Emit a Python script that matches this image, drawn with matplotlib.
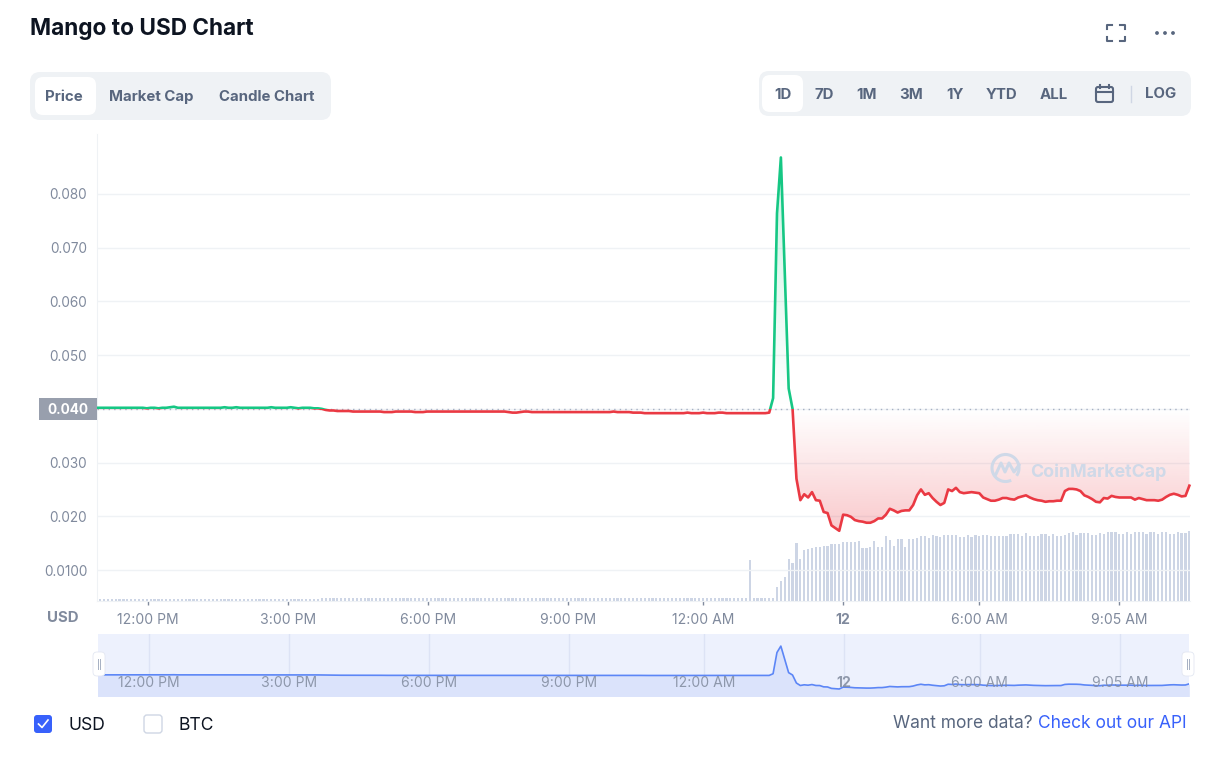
#!/usr/bin/env python3
# Mango to USD 1D chart, CoinMarketCap style
import numpy as np
import matplotlib
matplotlib.use("Agg")
import matplotlib.pyplot as plt
from matplotlib.patches import FancyBboxPatch, Rectangle, Circle, Arc

plt.rcParams["font.family"] = ["Inter", "DejaVu Sans"]

# 5 minute samples, hours counted from 12:00 PM
start_hour = -1.11
step_hour = 1 / 12
baseline = 0.040

price_before = [
    0.0402, 0.0402, 0.0402, 0.0402, 0.0402, 0.0402, 0.0402, 0.0402, 0.0402, 0.0402,
    0.0402, 0.0402, 0.0402, 0.0401, 0.0402, 0.0402, 0.0401, 0.0402, 0.0402, 0.0403,
    0.0404, 0.0402, 0.0402, 0.0402, 0.0402, 0.0402, 0.0402, 0.0402, 0.0402, 0.0402,
    0.0402, 0.0402, 0.0402, 0.0403, 0.0402, 0.0402, 0.0403, 0.0402, 0.0402, 0.0402,
    0.0402, 0.0402, 0.0402, 0.0402, 0.0402, 0.0403, 0.0402, 0.0402, 0.0402, 0.0402,
    0.0403, 0.0402, 0.0401, 0.0402, 0.0402, 0.0402, 0.0401, 0.0401,
]
price_drift = [
    0.0400, 0.0398, 0.0397, 0.0397, 0.0396, 0.0396, 0.0396, 0.0396, 0.0395, 0.0395,
    0.0395, 0.0395, 0.0395, 0.0395, 0.0395, 0.0395, 0.0394, 0.0394, 0.0394, 0.0395,
    0.0395, 0.0395, 0.0395, 0.0395, 0.0394, 0.0394, 0.0394, 0.0395, 0.0395, 0.0395,
    0.0395, 0.0395, 0.0395, 0.0395, 0.0395, 0.0395, 0.0395, 0.0395, 0.0395, 0.0395,
    0.0395, 0.0395, 0.0395, 0.0395, 0.0395, 0.0395, 0.0395, 0.0395, 0.0394, 0.0393,
    0.0393, 0.0394, 0.0395, 0.0395, 0.0394, 0.0394, 0.0394, 0.0394, 0.0394, 0.0394,
    0.0394, 0.0394, 0.0394, 0.0394, 0.0394, 0.0394, 0.0394, 0.0394, 0.0394, 0.0394,
    0.0394, 0.0394, 0.0394, 0.0394, 0.0394, 0.0395, 0.0394, 0.0394, 0.0394, 0.0394,
    0.0393, 0.0393, 0.0393, 0.0392, 0.0392, 0.0392, 0.0392, 0.0392, 0.0392, 0.0392,
    0.0392, 0.0392, 0.0392, 0.0392, 0.0393, 0.0392, 0.0392, 0.0392, 0.0393, 0.0392,
    0.0392, 0.0392, 0.0393, 0.0393, 0.0392, 0.0392, 0.0392, 0.0392, 0.0392, 0.0392,
    0.0392, 0.0392, 0.0392, 0.0392, 0.0392,
]
price_spike = [0.0393, 0.0420, 0.0764, 0.0868, 0.0652, 0.0438, 0.0400]
price_after = [
    0.0270, 0.0230, 0.0241, 0.0235, 0.0245, 0.0230, 0.0229, 0.0208, 0.0206, 0.0183,
    0.0178, 0.0173, 0.0203, 0.0202, 0.0199, 0.0193, 0.0191, 0.0190, 0.0188, 0.0188,
    0.0191, 0.0196, 0.0196, 0.0203, 0.0214, 0.0211, 0.0207, 0.0210, 0.0211, 0.0211,
    0.0221, 0.0239, 0.0250, 0.0240, 0.0243, 0.0234, 0.0227, 0.0221, 0.0225, 0.0250,
    0.0247, 0.0253, 0.0245, 0.0243, 0.0244, 0.0245, 0.0244, 0.0243, 0.0235, 0.0232,
    0.0229, 0.0229, 0.0231, 0.0234, 0.0234, 0.0232, 0.0231, 0.0235, 0.0237, 0.0239,
    0.0235, 0.0232, 0.0230, 0.0229, 0.0227, 0.0228, 0.0228, 0.0229, 0.0229, 0.0247,
    0.0251, 0.0251, 0.0250, 0.0247, 0.0239, 0.0236, 0.0232, 0.0227, 0.0226, 0.0234,
    0.0233, 0.0238, 0.0236, 0.0235, 0.0235, 0.0235, 0.0235, 0.0231, 0.0234, 0.0232,
    0.0230, 0.0230, 0.0230, 0.0229, 0.0231, 0.0236, 0.0240, 0.0242, 0.0240, 0.0237,
    0.0238, 0.0257,
]
price = np.array(price_before + price_drift + price_spike + price_after)

volume_quiet = [
    2.0, 2.0, 2.0, 2.0, 2.0, 2.0, 2.0, 2.0, 2.0, 2.0, 2.0, 2.0, 2.0, 2.0, 2.0, 2.0,
    2.0, 2.0, 2.0, 2.0, 2.0, 2.0, 2.0, 2.0, 2.0, 2.0, 2.0, 2.0, 2.0, 2.0, 2.0, 2.0,
    2.0, 2.0, 2.0, 2.0, 2.0, 2.0, 2.0, 2.0, 2.0, 2.0, 2.0, 2.0, 2.0, 2.0, 2.0, 2.0,
    2.0, 2.0, 2.0, 2.0, 2.0, 2.0, 2.0, 2.0, 2.0, 2.0,
    2.6, 2.6, 2.6, 2.6, 2.6, 2.6, 2.6, 2.6, 2.6, 2.6, 2.6, 2.6, 2.6, 2.6, 2.6, 2.6,
    2.6, 2.6, 2.6, 2.6, 2.6, 2.6, 2.6, 2.6, 2.6, 2.6, 2.6, 2.6, 2.6, 2.6, 2.6, 2.6,
    2.6, 2.6, 2.6, 2.6, 2.6, 2.6, 2.6, 2.6, 2.6, 2.6, 2.6, 2.6, 2.6, 2.6, 2.6, 2.6,
    2.6, 2.6, 2.6, 2.6, 2.6, 2.6, 2.6, 2.6, 2.6, 2.6, 2.6, 2.6, 2.6, 2.6, 2.6, 2.6,
    2.6, 2.6, 2.6, 2.6, 2.6, 2.6, 2.6, 2.6, 2.6, 2.6, 2.6, 2.6, 2.6, 2.6, 2.6, 2.6,
    2.6, 2.6, 2.6, 2.6, 2.6, 2.6, 2.6, 2.6, 2.6, 2.6, 2.6, 2.6, 2.6, 2.6, 2.6, 2.6,
    2.6, 2.6, 2.6, 2.6, 2.6, 2.6, 2.6, 2.6, 2.6, 2.6, 2.6, 2.6,
    2.7, 2.7, 41, 2.7, 2.7, 2.7, 2.7, 2.7, 2.7,
]
volume_active = [
    13.7, 20, 24, 42, 38, 58, 42, 51, 52, 53,
    54, 54, 55, 55, 57, 57, 57, 59, 59, 59,
    59, 60, 53, 53, 54, 60, 54, 54, 65, 61,
    55, 62, 62, 54, 62, 62, 63, 65, 65, 63,
    66, 65, 64, 66, 66, 66, 66, 64, 64, 66,
    64, 66, 65, 66, 66, 65, 65, 65, 65, 65,
    67, 67, 67, 65, 68, 65, 65, 65, 67, 67,
    65, 67, 65, 65, 66, 68, 69, 66, 68, 68,
    68, 66, 66, 68, 67, 69, 69, 69, 67, 67,
    69, 67, 69, 69, 69, 67, 69, 69, 67, 69,
    69, 67, 67, 69, 68, 68, 70,
]
volume = np.array(volume_quiet + volume_active)

price_ticks = [0.010, 0.020, 0.030, 0.040, 0.050, 0.060, 0.070, 0.080]
price_tick_labels = ["0.0100", "0.020", "0.030", "", "0.050", "0.060", "0.070", "0.080"]
time_ticks = [0, 3, 6, 9, 11.89, 14.89, 17.8, 20.8]
time_labels = ["12:00 PM", "3:00 PM", "6:00 PM", "9:00 PM", "12:00 AM", "12", "6:00 AM", "9:05 AM"]

tabs = ["Price", "Market Cap", "Candle Chart"]
tab_centers = [64, 151, 267]
ranges = ["1D", "7D", "1M", "3M", "1Y", "YTD", "ALL"]
range_centers = [783, 824, 867, 911, 955, 1002, 1054]

GREEN = "#16c784"
RED = "#ea3943"
SLATE = "#58667e"
GREY = "#808a9d"
BLUE = "#3861fb"
PX = 0.72  # font size in pt for a size in pixels at dpi 100

W, H = 1225, 761
fig = plt.figure(figsize=(W / 100, H / 100), dpi=100, facecolor="white")


def rect_px(left, top, right, bottom):
    return [left / W, (H - bottom) / H, (right - left) / W, (bottom - top) / H]


hours = start_hour + step_hour * np.arange(len(price))
bar_hours = start_hour + step_hour * np.arange(len(volume))

# volume goes behind the price axes
ax_vol = fig.add_axes(rect_px(97, 134, 1190, 601), zorder=1, facecolor="white")
ax_vol.bar(bar_hours, volume, width=0.047, color="#cdd5e5", linewidth=0, zorder=2)
ax_vol.set_xlim(-1.0925, 22.32)
ax_vol.set_ylim(0, 467)
ax_vol.axis("off")

ax = fig.add_axes(rect_px(97, 134, 1190, 601), zorder=2, facecolor="none")
ax.set_xlim(-1.0925, 22.32)
ax.set_ylim(0.00423, 0.09117)

# gradients between the line and the baseline
fill = ax.fill_between(hours, price, baseline, facecolor="none", linewidth=0)
clip_path = fill.get_paths()[0]
fade = np.linspace(0, 1, 200).reshape(-1, 1)

red_img = np.ones((200, 1, 4))
red_img[..., :3] = matplotlib.colors.to_rgb(RED)
red_img[..., 3] = 0.27 * (1 - fade)
im = ax.imshow(red_img, origin="lower", aspect="auto", zorder=3,
               extent=(hours[0], hours[-1], price.min(), baseline))
im.set_clip_path(clip_path, transform=ax.transData)

green_img = np.ones((200, 1, 4))
green_img[..., :3] = matplotlib.colors.to_rgb(GREEN)
green_img[..., 3] = 0.22 * fade
im = ax.imshow(green_img, origin="lower", aspect="auto", zorder=3,
               extent=(hours[0], hours[-1], baseline, price.max()))
im.set_clip_path(clip_path, transform=ax.transData)
ax.set_xlim(-1.0925, 22.32)
ax.set_ylim(0.00423, 0.09117)

ax.axhline(baseline, color="#a6b0c3", lw=1, ls=(0, (1, 3)), zorder=4)

# same line twice, clipped above and below the baseline
upper = Rectangle((-5, baseline), 40, 1, transform=ax.transData)
lower = Rectangle((-5, -1), 40, 1 + baseline, transform=ax.transData)
line_up, = ax.plot(hours, price, color=GREEN, lw=1.9, zorder=5, solid_joinstyle="round")
line_up.set_clip_path(upper)
line_down, = ax.plot(hours, price, color=RED, lw=1.9, zorder=5, solid_joinstyle="round")
line_down.set_clip_path(lower)

ax.set_yticks(price_ticks)
ax.set_yticklabels(price_tick_labels)
ax.tick_params(axis="y", length=0, pad=7, labelsize=13.6 * PX, labelcolor=GREY)
ax.set_xticks(time_ticks)
ax.set_xticklabels(time_labels)
ax.tick_params(axis="x", length=3, width=1, color="#808a9d", pad=6, labelsize=14 * PX, labelcolor=GREY)
ax.get_xticklabels()[5].set_fontweight("bold")
ax.grid(axis="y", color="#eff2f5", lw=1)
ax.set_axisbelow(True)
for name in ["top", "right"]:
    ax.spines[name].set_visible(False)
ax.spines["left"].set_color("#eff2f5")
ax.spines["bottom"].set_color("#eff2f5")

# navigator below the chart
ax_nav = fig.add_axes(rect_px(98, 634, 1189, 696), zorder=2, facecolor="#edf1fd")
ax_nav.set_xlim(-1.071, 22.30)
ax_nav.set_ylim(0.00597, 0.1064)
for t in time_ticks:
    ax_nav.axvline(t + 0.02, color="#dde3f5", lw=1, zorder=1)
ax_nav.fill_between(hours, price, 0, color="#dbe3fb", linewidth=0, zorder=2)
ax_nav.plot(hours, price, color="#5c86f6", lw=1.2, zorder=3)
for t, label in zip(time_ticks, time_labels):
    ax_nav.text(t + 0.02, 0.21, label, transform=ax_nav.get_xaxis_transform(), ha="center", va="center",
                fontsize=14 * PX, color="#808a9d", alpha=0.85, zorder=4,
                fontweight="bold" if label == "12" else "normal")
ax_nav.axis("off")
ax_nav.add_patch(Rectangle((0, 0), 1, 1, transform=ax_nav.transAxes, color="#edf1fd", zorder=0))

# everything around the chart, in pixel coordinates
ui = fig.add_axes([0, 0, 1, 1], zorder=5, facecolor="none")
ui.set_xlim(0, W)
ui.set_ylim(H, 0)
ui.axis("off")


def box(left, top, right, bottom, radius, color, edge="none", lw=0):
    ui.add_patch(FancyBboxPatch((left, top), right - left, bottom - top,
                                boxstyle=f"round,pad=0,rounding_size={radius}",
                                facecolor=color, edgecolor=edge, linewidth=lw))


ui.text(30, 28.5, "Mango to USD Chart", fontsize=22.6 * PX, fontweight="bold", color="#0d1421", va="center")

# tabs
box(30, 72, 331, 120, 10, "#eff2f5")
box(35, 77, 96, 115, 8, "white")
for label, cx in zip(tabs, tab_centers):
    ui.text(cx, 97, label, fontsize=15 * PX, fontweight="bold", color=SLATE, ha="center", va="center")

# range buttons
box(759, 71, 1191, 116, 10, "#eff2f5")
box(762, 75, 803, 112, 8, "white")
for label, cx in zip(ranges, range_centers):
    ui.text(cx, 95, label, fontsize=15 * PX, fontweight="bold", color=SLATE, ha="center", va="center")
ui.text(1161, 93.5, "LOG", fontsize=15 * PX, fontweight="bold", color=SLATE, ha="center", va="center")
ui.plot([1131, 1131], [86, 102], color="#cfd6e4", lw=1)

# calendar icon
box(1096, 87, 1113, 102, 2, "none", SLATE, 1.5)
ui.plot([1096, 1113], [92, 92], color=SLATE, lw=1.5)
ui.plot([1100, 1100], [84.5, 88], color=SLATE, lw=1.5)
ui.plot([1109, 1109], [84.5, 88], color=SLATE, lw=1.5)

# fullscreen icon and dots
for cx, sx in [(1107, 1), (1125, -1)]:
    for cy, sy in [(25, 1), (41, -1)]:
        ui.plot([cx + 5 * sx, cx, cx], [cy, cy, cy + 4 * sy], color=SLATE, lw=1.5)
for cx in [1157, 1165, 1173]:
    ui.add_patch(Circle((cx, 33), 1.9, color=SLATE, lw=0))

# current price flag
ui.add_patch(Rectangle((39, 398), 58, 22, color="#989fad", lw=0))
ui.text(68, 409.5, "0.040", fontsize=13.6 * PX, fontweight="bold", color="white", ha="center", va="center")
ui.text(63, 618.5, "USD", fontsize=15 * PX, fontweight="bold", color=GREY, ha="center", va="center")

# watermark
ui.add_patch(Arc((1005.5, 468), 27, 27, theta1=65, theta2=395, color="#cfd9e8", lw=2.2))
ui.plot([996, 1001, 1005, 1009, 1014, 1019], [474, 463, 472, 463, 472, 465], color="#cfd9e8", lw=2.2)
ui.text(1030, 472, "CoinMarketCap", fontsize=17.8 * PX, fontweight="bold", color="#cfd9e8", va="center")

# navigator handles
for left in [93, 1182]:
    box(left, 652, left + 12, 676, 4, "white", "#e3e7f2", 0.6)
    for dx in [5, 7]:
        ui.plot([left + dx, left + dx], [659, 669], color="#a6b0c3", lw=0.7)

# legend checkboxes
box(34, 715, 52, 733, 3, BLUE)
ui.plot([38.5, 42, 48], [724, 727.5, 720], color="white", lw=1.2)
ui.text(69, 725, "USD", fontsize=17.5 * PX, color="#0d1421", va="center")
box(144, 715, 162, 733, 3, "white", "#cfd6e4", 1)
ui.text(178, 725, "BTC", fontsize=17.5 * PX, color="#0d1421", va="center")

ui.text(1033, 724, "Want more data?", fontsize=17.4 * PX, color=SLATE, ha="right", va="center")
ui.text(1187, 724, "Check out our API", fontsize=17.4 * PX, color=BLUE, ha="right", va="center")

fig.savefig("out.png", dpi=100)
